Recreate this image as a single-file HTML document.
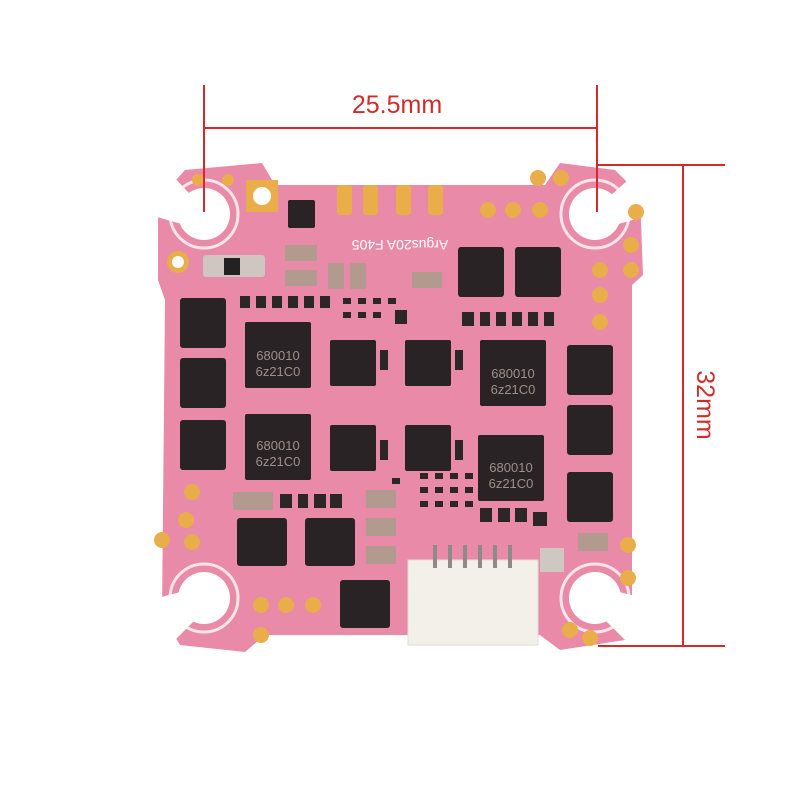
<!DOCTYPE html>
<html><head><meta charset="utf-8"><style>
html,body{margin:0;padding:0;background:#fff;}
svg{display:block;}
</style></head><body>
<svg width="800" height="800" viewBox="0 0 800 800" xmlns="http://www.w3.org/2000/svg" font-family="Liberation Sans, sans-serif">
<rect width="800" height="800" fill="#fff"/>
<!-- board -->
<path d="M185,170 L262,163 L275,185 L545,185 L560,163 L615,170 L640,195 L643,275 L632,285 L632,620 L625,640 L560,650 L540,635 L265,635 L245,652 L180,645 L162,615 L165,300 L158,280 L158,200 Z" fill="#e98aa8"/>
<!-- mounting holes -->
<g fill="none" stroke="#fbe5ec" stroke-width="3">
<circle cx="204" cy="214" r="34"/><circle cx="595" cy="214" r="34"/>
<circle cx="204" cy="598" r="34"/><circle cx="595" cy="598" r="34"/>
</g>
<g fill="#fff">
<circle cx="204" cy="214" r="26"/><circle cx="595" cy="214" r="26"/>
<circle cx="204" cy="598" r="26"/><circle cx="595" cy="598" r="26"/>
<path d="M150,175 L172,175 L200,205 L185,225 L150,215Z"/>
<path d="M650,180 L628,180 L600,205 L615,225 L650,215Z"/>
<path d="M150,640 L175,640 L205,610 L188,590 L150,600Z"/>
<path d="M650,640 L625,640 L595,610 L612,590 L650,600Z"/>
</g>
<!-- small parts field -->
<g fill="#3a2f33">
<rect x="265" y="463" width="8" height="8"/>
</g>
<g fill="#2d2629">
<rect x="240" y="296" width="10" height="12"/><rect x="256" y="296" width="10" height="12"/><rect x="272" y="296" width="10" height="12"/><rect x="288" y="296" width="10" height="12"/><rect x="304" y="296" width="10" height="12"/><rect x="320" y="296" width="10" height="12"/>
<rect x="343" y="298" width="8" height="6"/><rect x="358" y="298" width="8" height="6"/><rect x="373" y="298" width="8" height="6"/><rect x="388" y="298" width="8" height="6"/><rect x="343" y="312" width="8" height="6"/><rect x="358" y="312" width="8" height="6"/><rect x="373" y="312" width="8" height="6"/>
<rect x="395" y="310" width="12" height="14"/>
<rect x="462" y="312" width="12" height="14"/><rect x="480" y="312" width="10" height="14"/><rect x="496" y="312" width="10" height="14"/><rect x="512" y="312" width="10" height="14"/><rect x="528" y="312" width="10" height="14"/><rect x="544" y="312" width="10" height="14"/>
<rect x="420" y="473" width="8" height="6"/><rect x="435" y="473" width="8" height="6"/><rect x="450" y="473" width="8" height="6"/><rect x="465" y="473" width="8" height="6"/>
<rect x="420" y="487" width="8" height="6"/><rect x="435" y="487" width="8" height="6"/><rect x="450" y="487" width="8" height="6"/><rect x="465" y="487" width="8" height="6"/>
<rect x="420" y="501" width="8" height="6"/><rect x="435" y="501" width="8" height="6"/><rect x="450" y="501" width="8" height="6"/><rect x="465" y="501" width="8" height="6"/>
<rect x="480" y="508" width="12" height="14"/><rect x="498" y="508" width="12" height="14"/><rect x="515" y="508" width="12" height="14"/><rect x="533" y="512" width="14" height="14"/>
<rect x="280" y="494" width="12" height="14"/><rect x="298" y="494" width="10" height="14"/><rect x="314" y="494" width="12" height="14"/><rect x="330" y="494" width="12" height="14"/>
<rect x="392" y="478" width="8" height="6"/><rect x="380" y="440" width="8" height="20"/><rect x="455" y="440" width="8" height="20"/><rect x="380" y="350" width="8" height="20"/><rect x="455" y="350" width="8" height="20"/>
</g>
<!-- gold pads -->
<g fill="#e9ad4a">
<rect x="246" y="180" width="32" height="32"/>
<rect x="337" y="185" width="15" height="30" rx="3"/><rect x="363" y="185" width="15" height="30" rx="3"/>
<rect x="396" y="185" width="15" height="30" rx="3"/><rect x="428" y="185" width="15" height="30" rx="3"/>
<circle cx="178" cy="262" r="11"/>
<circle cx="488" cy="210" r="8"/><circle cx="513" cy="210" r="8"/><circle cx="540" cy="210" r="8"/>
<circle cx="538" cy="178" r="8"/><circle cx="561" cy="178" r="8"/>
<circle cx="636" cy="212" r="8"/><circle cx="631" cy="245" r="8"/><circle cx="631" cy="270" r="8"/>
<circle cx="600" cy="270" r="8"/><circle cx="600" cy="295" r="8"/><circle cx="600" cy="322" r="8"/>
<circle cx="192" cy="492" r="8"/><circle cx="186" cy="520" r="8"/><circle cx="162" cy="540" r="8"/><circle cx="192" cy="542" r="8"/>
<circle cx="261" cy="605" r="8"/><circle cx="286" cy="605" r="8"/><circle cx="313" cy="605" r="8"/><circle cx="261" cy="635" r="8"/>
<circle cx="628" cy="545" r="8"/><circle cx="628" cy="578" r="8"/><circle cx="570" cy="630" r="8"/><circle cx="590" cy="638" r="8"/>
<circle cx="198" cy="180" r="6"/><circle cx="228" cy="180" r="6"/>
</g>
<g fill="#fff"><circle cx="262" cy="196" r="9"/><circle cx="178" cy="262" r="6"/></g>
<!-- chips -->
<g fill="#2a2326">
<rect x="180" y="298" width="46" height="50" rx="3"/><rect x="180" y="358" width="46" height="50" rx="3"/><rect x="180" y="420" width="46" height="50" rx="3"/>
<rect x="567" y="345" width="46" height="50" rx="3"/><rect x="567" y="405" width="46" height="50" rx="3"/><rect x="567" y="472" width="46" height="50" rx="3"/>
<rect x="458" y="247" width="46" height="50" rx="3"/><rect x="515" y="247" width="46" height="50" rx="3"/>
<rect x="237" y="518" width="50" height="48" rx="3"/><rect x="305" y="518" width="50" height="48" rx="3"/><rect x="340" y="580" width="50" height="48" rx="3"/>
<rect x="245" y="322" width="66" height="66" rx="2"/><rect x="245" y="414" width="66" height="66" rx="2"/>
<rect x="480" y="340" width="66" height="66" rx="2"/><rect x="478" y="435" width="66" height="66" rx="2"/>
<rect x="330" y="340" width="46" height="46" rx="2"/><rect x="405" y="340" width="46" height="46" rx="2"/>
<rect x="330" y="425" width="46" height="46" rx="2"/><rect x="405" y="425" width="46" height="46" rx="2"/>
<rect x="288" y="200" width="27" height="28" rx="2"/>
</g>
<g fill="#9b918a" font-size="13" text-anchor="middle">
<text x="278" y="360">680010</text><text x="278" y="376">6z21C0</text>
<text x="278" y="450">680010</text><text x="278" y="466">6z21C0</text>
<text x="513" y="378">680010</text><text x="513" y="394">6z21C0</text>
<text x="511" y="472">680010</text><text x="511" y="488">6z21C0</text>
</g>
<!-- caps -->
<g fill="#b39a8e">
<rect x="203" y="255" width="62" height="22" rx="3" fill="#cfc6c2"/>
<rect x="285" y="245" width="32" height="16"/><rect x="285" y="270" width="32" height="16"/>
<rect x="328" y="263" width="16" height="26"/><rect x="350" y="263" width="16" height="26"/>
<rect x="412" y="272" width="30" height="16"/>
<rect x="233" y="492" width="40" height="18"/><rect x="366" y="490" width="30" height="18"/>
<rect x="366" y="518" width="30" height="18"/><rect x="366" y="546" width="30" height="18"/>
<rect x="578" y="533" width="30" height="18"/>
<rect x="540" y="548" width="24" height="24" fill="#cfc7c2"/>
</g>
<rect x="224" y="258" width="16" height="17" fill="#222"/>
<!-- connector -->
<rect x="408" y="560" width="130" height="85" fill="#f3efe9" stroke="#ddd"/>
<g stroke="#8f8a87" stroke-width="4"><line x1="435" y1="545" x2="435" y2="568"/><line x1="450" y1="545" x2="450" y2="568"/><line x1="465" y1="545" x2="465" y2="568"/><line x1="480" y1="545" x2="480" y2="568"/><line x1="495" y1="545" x2="495" y2="568"/><line x1="510" y1="545" x2="510" y2="568"/></g>
<text x="400" y="230" fill="#fff" font-size="14" transform="rotate(180 400 235)" text-anchor="middle">Argus20A F405</text>
<!-- dimensions -->
<g stroke="#d42a2a" stroke-width="2">
<line x1="204" y1="85" x2="204" y2="212"/><line x1="597" y1="85" x2="597" y2="212"/>
<line x1="204" y1="128" x2="597" y2="128"/>
<line x1="598" y1="165" x2="725" y2="165"/><line x1="598" y1="646" x2="725" y2="646"/>
<line x1="683" y1="165" x2="683" y2="646"/>
</g>
<text x="397" y="113" fill="#d42a2a" font-size="25" text-anchor="middle">25.5mm</text>
<text x="0" y="0" fill="#d42a2a" font-size="25" text-anchor="middle" transform="translate(697 405) rotate(90)">32mm</text>
</svg>
</body></html>
